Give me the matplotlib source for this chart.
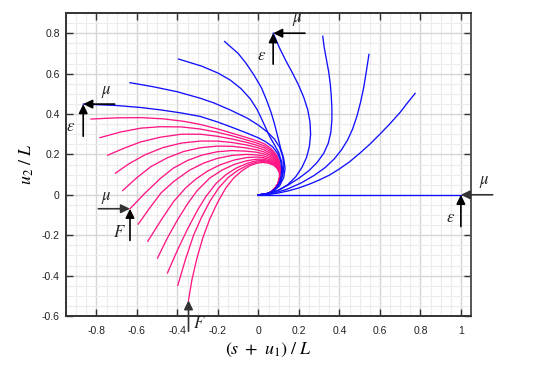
import matplotlib
matplotlib.use("Agg")
import matplotlib.pyplot as plt
from matplotlib.ticker import MultipleLocator

plt.rcParams['font.family'] = ['Liberation Sans', 'DejaVu Sans']
plt.rcParams['axes.unicode_minus'] = False
plt.rcParams['mathtext.fontset'] = 'stix'

# ---- data ----
blue_x = [
    [0, 1.0],
    [0, 0.05, 0.10, 0.15, 0.20, 0.25, 0.30, 0.35, 0.40, 0.45, 0.50, 0.55, 0.60, 0.65, 0.70, 0.74, 0.774],
    [0, 0.07, 0.14, 0.21, 0.274, 0.33, 0.375, 0.41, 0.44, 0.465, 0.487, 0.505, 0.52, 0.533, 0.546],
    [0, 0.05, 0.10, 0.15, 0.20, 0.25, 0.29, 0.323, 0.345, 0.358, 0.363, 0.363, 0.36, 0.355, 0.347, 0.336, 0.325, 0.318],
    [0, 0.05, 0.10, 0.145, 0.185, 0.215, 0.238, 0.252, 0.258, 0.255, 0.244, 0.225, 0.20, 0.17, 0.135, 0.103, 0.073],
    [0, 0.04, 0.075, 0.105, 0.125, 0.132, 0.125, 0.11, 0.095, 0.08, 0.062, 0.04, 0.015, -0.02, -0.06, -0.10, -0.167],
    [0, 0.035, 0.068, 0.095, 0.113, 0.12, 0.116, 0.10, 0.078, 0.055, 0.026, -0.005, -0.040, -0.085, -0.139, -0.20, -0.28, -0.394],
    [0, 0.03, 0.06, 0.087, 0.108, 0.121, 0.126, 0.12, 0.105, 0.08, 0.045, 0.0, -0.056, -0.139, -0.22, -0.287, -0.40, -0.52, -0.634],
    [0, 0.03, 0.058, 0.083, 0.101, 0.112, 0.115, 0.11, 0.095, 0.07, 0.037, 0.0, -0.06, -0.13, -0.20, -0.287, -0.38, -0.48, -0.58, -0.70, -0.865],
]
blue_y = [
    [0, 0.0],
    [0, 0.002, 0.009, 0.02, 0.034, 0.052, 0.073, 0.097, 0.128, 0.163, 0.205, 0.25, 0.30, 0.352, 0.408, 0.46, 0.502],
    [0, 0.006, 0.027, 0.058, 0.095, 0.135, 0.178, 0.222, 0.27, 0.325, 0.39, 0.46, 0.53, 0.61, 0.695],
    [0, 0.005, 0.024, 0.05, 0.082, 0.12, 0.16, 0.206, 0.255, 0.31, 0.37, 0.43, 0.49, 0.55, 0.61, 0.67, 0.73, 0.785],
    [0, 0.005, 0.022, 0.05, 0.09, 0.135, 0.185, 0.24, 0.30, 0.36, 0.42, 0.48, 0.54, 0.60, 0.665, 0.73, 0.80],
    [0, 0.004, 0.018, 0.045, 0.085, 0.13, 0.18, 0.23, 0.29, 0.35, 0.41, 0.47, 0.53, 0.59, 0.65, 0.70, 0.759],
    [0, 0.003, 0.016, 0.04, 0.075, 0.115, 0.16, 0.21, 0.25, 0.29, 0.354, 0.42, 0.475, 0.525, 0.568, 0.603, 0.637, 0.672],
    [0, 0.002, 0.012, 0.032, 0.062, 0.10, 0.145, 0.19, 0.235, 0.275, 0.31, 0.345, 0.38, 0.42, 0.455, 0.478, 0.51, 0.535, 0.555],
    [0, 0.002, 0.011, 0.03, 0.057, 0.09, 0.128, 0.168, 0.205, 0.238, 0.262, 0.282, 0.307, 0.334, 0.36, 0.388, 0.405, 0.42, 0.432, 0.442, 0.449],
]

pink_x = [
    [0, 0.03, 0.057, 0.08, 0.097, 0.106, 0.110, 0.104, 0.088, 0.062, 0.030, -0.010, -0.060, -0.130, -0.204, -0.290, -0.370, -0.470, -0.580, -0.700, -0.827],
    [0, 0.03, 0.057, 0.08, 0.097, 0.106, 0.110, 0.103, 0.087, 0.061, 0.030, -0.010, -0.060, -0.130, -0.204, -0.290, -0.380, -0.485, -0.580, -0.680, -0.782],
    [0, 0.03, 0.057, 0.08, 0.097, 0.106, 0.109, 0.102, 0.086, 0.060, 0.028, -0.010, -0.060, -0.130, -0.204, -0.287, -0.380, -0.485, -0.580, -0.660, -0.744],
    [0, 0.03, 0.057, 0.08, 0.097, 0.106, 0.108, 0.101, 0.085, 0.059, 0.027, -0.010, -0.060, -0.130, -0.204, -0.287, -0.380, -0.470, -0.560, -0.640, -0.706],
    [0, 0.03, 0.057, 0.08, 0.097, 0.106, 0.108, 0.100, 0.084, 0.058, 0.026, -0.010, -0.060, -0.130, -0.204, -0.287, -0.370, -0.450, -0.530, -0.600, -0.670],
    [0, 0.03, 0.057, 0.08, 0.097, 0.106, 0.107, 0.099, 0.083, 0.057, 0.025, -0.010, -0.060, -0.130, -0.204, -0.280, -0.350, -0.420, -0.485, -0.560, -0.634],
    [0, 0.03, 0.057, 0.08, 0.097, 0.106, 0.107, 0.098, 0.082, 0.056, 0.024, -0.010, -0.060, -0.130, -0.204, -0.270, -0.340, -0.419, -0.480, -0.540, -0.593],
    [0, 0.03, 0.057, 0.08, 0.097, 0.106, 0.106, 0.097, 0.080, 0.055, 0.024, -0.010, -0.060, -0.120, -0.190, -0.250, -0.310, -0.360, -0.420, -0.480, -0.546],
    [0, 0.03, 0.057, 0.08, 0.097, 0.106, 0.106, 0.096, 0.079, 0.054, 0.024, -0.010, -0.060, -0.120, -0.180, -0.240, -0.303, -0.350, -0.400, -0.450, -0.498],
    [0, 0.03, 0.057, 0.08, 0.097, 0.105, 0.105, 0.095, 0.078, 0.053, 0.024, -0.010, -0.055, -0.110, -0.160, -0.210, -0.260, -0.300, -0.350, -0.400, -0.449],
    [0, 0.03, 0.057, 0.08, 0.097, 0.105, 0.105, 0.094, 0.077, 0.052, 0.024, -0.008, -0.050, -0.100, -0.150, -0.195, -0.238, -0.280, -0.320, -0.360, -0.398],
    [0, 0.03, 0.057, 0.08, 0.097, 0.104, 0.104, 0.093, 0.076, 0.051, 0.024, -0.005, -0.040, -0.080, -0.122, -0.160, -0.200, -0.240, -0.275, -0.305, -0.328, -0.345],
]
pink_y = [
    [0, 0.002, 0.011, 0.029, 0.055, 0.087, 0.125, 0.165, 0.200, 0.230, 0.252, 0.268, 0.284, 0.305, 0.327, 0.349, 0.364, 0.376, 0.382, 0.381, 0.375],
    [0, 0.002, 0.011, 0.029, 0.055, 0.087, 0.123, 0.160, 0.194, 0.222, 0.242, 0.257, 0.272, 0.292, 0.310, 0.326, 0.336, 0.337, 0.330, 0.311, 0.283],
    [0, 0.002, 0.011, 0.029, 0.055, 0.087, 0.121, 0.156, 0.188, 0.214, 0.233, 0.246, 0.260, 0.276, 0.290, 0.300, 0.300, 0.285, 0.262, 0.232, 0.196],
    [0, 0.002, 0.011, 0.029, 0.055, 0.087, 0.119, 0.152, 0.182, 0.206, 0.223, 0.235, 0.247, 0.259, 0.266, 0.266, 0.256, 0.234, 0.198, 0.153, 0.107],
    [0, 0.002, 0.011, 0.029, 0.055, 0.087, 0.117, 0.148, 0.176, 0.198, 0.213, 0.223, 0.232, 0.240, 0.241, 0.233, 0.214, 0.183, 0.140, 0.085, 0.021],
    [0, 0.002, 0.011, 0.029, 0.055, 0.087, 0.115, 0.144, 0.170, 0.190, 0.203, 0.211, 0.216, 0.219, 0.213, 0.196, 0.170, 0.132, 0.080, 0.008, -0.069],
    [0, 0.002, 0.011, 0.029, 0.055, 0.087, 0.114, 0.141, 0.164, 0.182, 0.193, 0.198, 0.200, 0.195, 0.180, 0.157, 0.122, 0.065, 0.010, -0.070, -0.145],
    [0, 0.002, 0.011, 0.029, 0.055, 0.087, 0.112, 0.138, 0.159, 0.175, 0.184, 0.187, 0.184, 0.172, 0.148, 0.118, 0.077, 0.033, -0.035, -0.125, -0.230],
    [0, 0.002, 0.011, 0.029, 0.055, 0.087, 0.111, 0.136, 0.155, 0.169, 0.176, 0.176, 0.168, 0.150, 0.122, 0.083, 0.020, -0.045, -0.125, -0.215, -0.313],
    [0, 0.002, 0.011, 0.029, 0.055, 0.086, 0.110, 0.134, 0.152, 0.164, 0.170, 0.168, 0.156, 0.132, 0.100, 0.055, -0.010, -0.075, -0.170, -0.275, -0.387],
    [0, 0.002, 0.011, 0.029, 0.055, 0.086, 0.109, 0.132, 0.149, 0.160, 0.165, 0.162, 0.148, 0.122, 0.085, 0.035, -0.030, -0.110, -0.200, -0.320, -0.449],
    [0, 0.002, 0.011, 0.029, 0.055, 0.085, 0.108, 0.130, 0.146, 0.156, 0.160, 0.157, 0.145, 0.120, 0.083, 0.035, -0.035, -0.120, -0.215, -0.320, -0.420, -0.522],
]

xticks = [-0.8, -0.6, -0.4, -0.2, 0, 0.2, 0.4, 0.6, 0.8, 1]
xticklabels = ['-0.8', '-0.6', '-0.4', '-0.2', '0', '0.2', '0.4', '0.6', '0.8', '1']
yticks = [-0.6, -0.4, -0.2, 0, 0.2, 0.4, 0.6, 0.8]
yticklabels = ['-0.6', '-0.4', '-0.2', '0', '0.2', '0.4', '0.6', '0.8']

BLUE = '#1010ff'
PINK = '#ff1685'

fig = plt.figure(figsize=(5.41, 3.69), dpi=100)
ax = fig.add_axes([66/541, 1 - 316/369, 405/541, 303/369])
ax.set_xlim(-0.95, 1.05)
ax.set_ylim(-0.6, 0.9)

ax.xaxis.set_minor_locator(MultipleLocator(0.05))
ax.yaxis.set_minor_locator(MultipleLocator(0.05))
ax.grid(which='minor', color='#ececec', lw=0.8, zorder=0)
ax.grid(which='major', color='#d6d6d6', lw=1.0, zorder=0)
ax.set_axisbelow(True)

for xs, ys in zip(pink_x, pink_y):
    ax.plot(xs, ys, color=PINK, lw=0.95, solid_joinstyle='round', zorder=2)
for xs, ys in zip(blue_x, blue_y):
    ax.plot(xs, ys, color=BLUE, lw=0.95, solid_joinstyle='round', zorder=3)

ax.set_xticks(xticks)
ax.set_xticklabels(xticklabels)
ax.set_yticks(yticks)
ax.set_yticklabels(yticklabels)
ax.tick_params(which='major', direction='in', length=5, width=1.0, color='#333333',
               top=True, right=True, labelsize=7.5, labelcolor='#222222')
ax.tick_params(axis='x', which='major', pad=7.5)
ax.tick_params(axis='y', which='major', pad=4.5)
ax.tick_params(which='minor', length=0)
for name, sp in ax.spines.items():
    sp.set_color('#333333' if name in ('left', 'bottom', 'top') else '#555555')
    sp.set_linewidth(1.4)

ax.set_xlabel(r'$(s\ +\ u_1)\ /\ L$', fontsize=13, labelpad=3)
ax.set_ylabel(r'$u_2\ /\ L$', fontsize=13, labelpad=4)

ap = dict(arrowstyle='-|>,head_length=0.45,head_width=0.22', color='black', lw=1.2,
          mutation_scale=12, shrinkA=0, shrinkB=0)
apg = dict(arrowstyle='-|>,head_length=0.45,head_width=0.22', color='#333333', lw=1.2,
           mutation_scale=12, shrinkA=0, shrinkB=0)

def arrow(tip, tail, props):
    ax.annotate('', xy=tip, xytext=tail, arrowprops=props, annotation_clip=False, zorder=5)

def lab(x, y, s):
    ax.text(x, y, s, fontsize=12, ha='center', va='center', color='#222222',
            zorder=6, clip_on=False)

# arrows at blue tip near top
arrow((0.073, 0.80), (0.23, 0.80), ap)
arrow((0.073, 0.80), (0.073, 0.647), ap)
lab(0.19, 0.865, r'$\mu$')
lab(0.018, 0.69, r'$\varepsilon$')
# arrows at outer blue tip on the left
arrow((-0.865, 0.449), (-0.71, 0.449), ap)
arrow((-0.865, 0.449), (-0.865, 0.29), ap)
lab(-0.75, 0.51, r'$\mu$')
lab(-0.93, 0.337, r'$\varepsilon$')
# arrows at straight blue tip
arrow((1.0, 0.0), (1.157, 0.0), apg)
arrow((1.0, 0.0), (1.0, -0.157), ap)
lab(1.114, 0.062, r'$\mu$')
lab(0.947, -0.11, r'$\varepsilon$')
# arrows at pink tip
arrow((-0.634, -0.069), (-0.79, -0.069), apg)
arrow((-0.634, -0.069), (-0.634, -0.226), ap)
lab(-0.75, -0.016, r'$\mu$')
lab(-0.687, -0.184, r'$F$')
# arrow at last pink tip
arrow((-0.345, -0.522), (-0.345, -0.675), apg)
lab(-0.292, -0.637, r'$F$')

fig.savefig('out.png', dpi=100)
